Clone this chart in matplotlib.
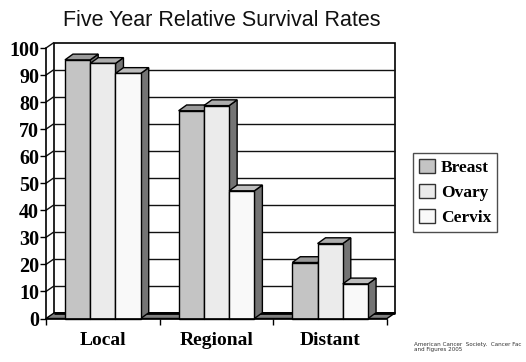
import matplotlib.pyplot as plt
from matplotlib.patches import Polygon, Patch

categories = ['Local', 'Regional', 'Distant']
series = ['Breast', 'Ovary', 'Cervix']
breast = [95.6, 76.8, 20.7]
ovary = [94.3, 78.7, 27.7]
cervix = [90.6, 47.2, 12.8]
yticks = [0, 10, 20, 30, 40, 50, 60, 70, 80, 90, 100]
source_note = 'American Cancer  Society.  Cancer Fac\nand Figures 2005'

front_colors = ['#c4c4c4', '#ebebeb', '#f9f9f9']
top_colors = ['#9a9a9a', '#adadad', '#bdbdbd']
side_color = '#747474'
serif = 'Liberation Serif'

W, H = 526, 362
fig = plt.figure(figsize=(W / 100, H / 100), dpi=100)
# front plane of the 3-D box in pixels: x 46..387, y 48..318.5
ax = fig.add_axes([46 / W, (H - 318.5) / H, 341 / W, 270.5 / H])
ax.set_xlim(0, 3)
ax.set_ylim(0, 100)

# depth offset of the box (8 px right, 5.5 px up) in data units
dx = 8 / 341 * 3
dy = 5.5 / 270.5 * 100


def poly(pts, fc, ec='black', lw=1.0, z=1):
    p = Polygon(pts, closed=True, facecolor=fc, edgecolor=ec, linewidth=lw,
                zorder=z, clip_on=False, joinstyle='miter')
    ax.add_patch(p)


def line(xs, ys, c='black', lw=1.0, z=1):
    ax.plot(xs, ys, color=c, lw=lw, zorder=z, clip_on=False,
            solid_capstyle='butt')


# back wall
poly([(dx, dy), (3 + dx, dy), (3 + dx, 100 + dy), (dx, 100 + dy)], 'white',
     lw=1.2, z=1)
# gridlines on back wall and left wall
for t in yticks[1:-1]:
    line([dx, 3 + dx], [t + dy, t + dy], c='#111111', lw=1.0, z=2)
for t in yticks[1:]:
    line([0, dx], [t, t + dy], c='#111111', lw=1.0, z=2)

# floor slab
poly([(0, 0), (3, 0), (3 + dx, dy), (dx, dy)], '#808080', ec='black', lw=1.0, z=3)
line([dx, 3 + dx], [dy, dy], lw=2.0, z=3)

# bars: gap 1/3 of the category, three bars side by side
gap = 1 / 3
bw = (1 - gap) / 3
bar_dx = dx * 1.0
bar_dy = dy * 1.05
z = 10
for j in range(len(categories)):
    for i, vals in enumerate([breast, ovary, cervix]):
        v = vals[j]
        x0 = j + gap / 2 + i * bw
        x1 = x0 + bw
        poly([(x1, 0), (x1 + bar_dx, bar_dy), (x1 + bar_dx, v + bar_dy), (x1, v)],
             side_color, z=z)
        poly([(x0, v), (x1, v), (x1 + bar_dx, v + bar_dy), (x0 + bar_dx, v + bar_dy)],
             top_colors[i], z=z + 1)
        poly([(x0, 0), (x1, 0), (x1, v), (x0, v)], front_colors[i], z=z + 2)
        z += 3

for s in ['top', 'right']:
    ax.spines[s].set_visible(False)
ax.spines['left'].set_linewidth(1.2)
ax.spines['bottom'].set_linewidth(1.2)
ax.spines['left'].set_zorder(50)
ax.spines['bottom'].set_zorder(50)
ax.patch.set_visible(False)

ax.set_yticks(yticks)
ax.set_yticklabels([str(t) for t in yticks], fontfamily=serif,
                   fontweight='bold', fontsize=14.5)
ax.tick_params(axis='y', direction='out', length=4, width=1, pad=1)

ax.set_xticks([0.5, 1.5, 2.5])
ax.set_xticklabels(categories, fontfamily=serif, fontweight='bold', fontsize=14)
ax.set_xticks([0, 1, 2, 3], minor=True)
ax.tick_params(axis='x', which='major', length=0, pad=10)
ax.tick_params(axis='x', which='minor', direction='out', length=4, width=1)

fig.text(222 / W, 1 - 26 / H, 'Five Year Relative Survival Rates',
         ha='center', va='baseline', fontfamily='Liberation Sans', fontsize=15.5,
         color='#111111')

handles = [Patch(facecolor=front_colors[i], edgecolor='#333333', linewidth=1,
                 label=series[i]) for i in range(3)]
leg = fig.legend(handles=handles, loc='upper left',
                 bbox_to_anchor=(413 / W, 1 - 153 / H), borderaxespad=0,
                 fancybox=False, frameon=True, handlelength=0.9,
                 handleheight=0.9, handletextpad=0.35, labelspacing=0.45,
                 borderpad=0.35, prop={'family': serif, 'weight': 'bold',
                                       'size': 12.5})
leg.get_frame().set_edgecolor('#222222')
leg.get_frame().set_linewidth(1.0)

fig.text(414 / W, 1 - 342 / H, source_note, ha='left', va='top',
         fontfamily='DejaVu Sans', fontsize=4.1, color='#333333',
         linespacing=1.1)

fig.savefig('out.png', dpi=100)
